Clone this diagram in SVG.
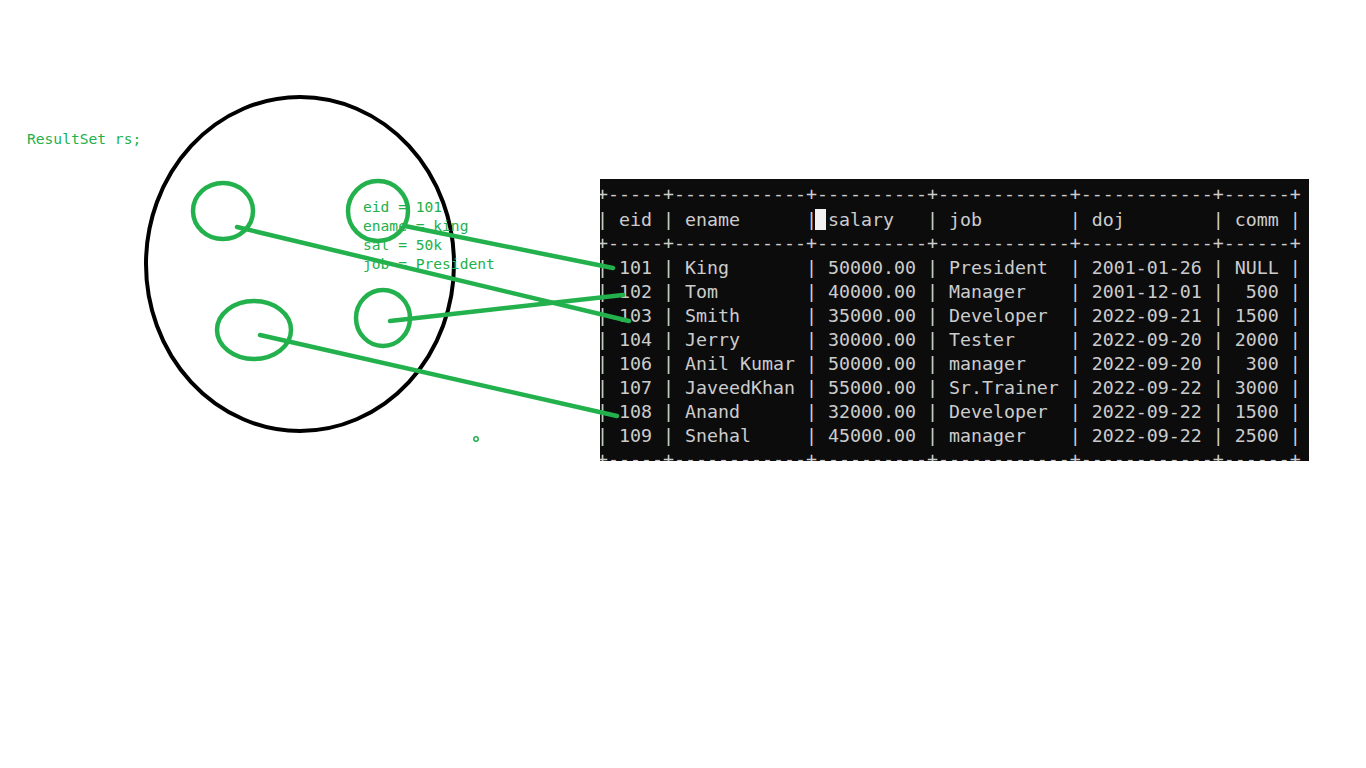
<svg xmlns="http://www.w3.org/2000/svg" width="1366" height="768" viewBox="0 0 1366 768">
<defs>
<style>
.g{fill:none;stroke:#22b14c;stroke-width:4.5;stroke-linecap:round}
.gt{fill:#22b14c;font-family:"DejaVu Sans Mono","Liberation Mono",monospace;font-size:14.6px;white-space:pre}
.tt{fill:#cccccc;font-family:"DejaVu Sans Mono","Liberation Mono",monospace;font-size:18.27px;white-space:pre}
</style>
<clipPath id="tc"><rect x="600" y="179" width="709" height="282"/></clipPath>
</defs>
<rect width="1366" height="768" fill="#ffffff"/>
<g id="label-resultset"><text class="gt" x="27" y="144">ResultSet rs;</text></g>
<g id="resultset-ellipse"><ellipse cx="300" cy="264" rx="154" ry="167" fill="none" stroke="#000" stroke-width="4"/></g>
<g id="circle-1"><ellipse class="g" cx="223" cy="211" rx="30" ry="28"/></g>
<g id="circle-2"><ellipse class="g" cx="378" cy="211" rx="30" ry="30"/></g>
<g id="circle-3"><ellipse class="g" cx="383" cy="318" rx="27" ry="28"/></g>
<g id="circle-4"><ellipse class="g" cx="254" cy="330" rx="37" ry="29"/></g>
<g id="record-text">
<text class="gt" x="363" y="212">eid = 101</text>
<text class="gt" x="363" y="231">ename = king</text>
<text class="gt" x="363" y="250">sal = 50k</text>
<text class="gt" x="363" y="269">job = President</text>
</g>
<g id="dot"><circle cx="476" cy="439" r="2.2" fill="none" stroke="#22b14c" stroke-width="1.5"/></g>
<g id="table">
<rect x="600" y="179" width="709" height="282" fill="#0c0c0c"/>
<g clip-path="url(#tc)">
<rect x="815" y="209" width="11" height="21" fill="#f2f2f2"/>
<text class="tt" x="597" y="199.5" xml:space="preserve">+-----+------------+----------+------------+------------+------+</text>
<text class="tt" x="597" y="226" xml:space="preserve">| eid | ename      | salary   | job        | doj        | comm |</text>
<text class="tt" x="597" y="248.5" xml:space="preserve">+-----+------------+----------+------------+------------+------+</text>
<text class="tt" x="597" y="274" xml:space="preserve">| 101 | King       | 50000.00 | President  | 2001-01-26 | NULL |</text>
<text class="tt" x="597" y="298" xml:space="preserve">| 102 | Tom        | 40000.00 | Manager    | 2001-12-01 |  500 |</text>
<text class="tt" x="597" y="322" xml:space="preserve">| 103 | Smith      | 35000.00 | Developer  | 2022-09-21 | 1500 |</text>
<text class="tt" x="597" y="346" xml:space="preserve">| 104 | Jerry      | 30000.00 | Tester     | 2022-09-20 | 2000 |</text>
<text class="tt" x="597" y="370" xml:space="preserve">| 106 | Anil Kumar | 50000.00 | manager    | 2022-09-20 |  300 |</text>
<text class="tt" x="597" y="394" xml:space="preserve">| 107 | JaveedKhan | 55000.00 | Sr.Trainer | 2022-09-22 | 3000 |</text>
<text class="tt" x="597" y="418" xml:space="preserve">| 108 | Anand      | 32000.00 | Developer  | 2022-09-22 | 1500 |</text>
<text class="tt" x="597" y="442" xml:space="preserve">| 109 | Snehal     | 45000.00 | manager    | 2022-09-22 | 2500 |</text>
<text class="tt" x="597" y="464.5" xml:space="preserve">+-----+------------+----------+------------+------------+------+</text>
</g>
</g>
<g id="connectors">
<line class="g" x1="237" y1="227" x2="629" y2="321"/>
<line class="g" x1="405" y1="226" x2="613" y2="268"/>
<line class="g" x1="390" y1="321" x2="623" y2="295"/>
<line class="g" x1="260" y1="335" x2="617" y2="416"/>
</g>
</svg>
